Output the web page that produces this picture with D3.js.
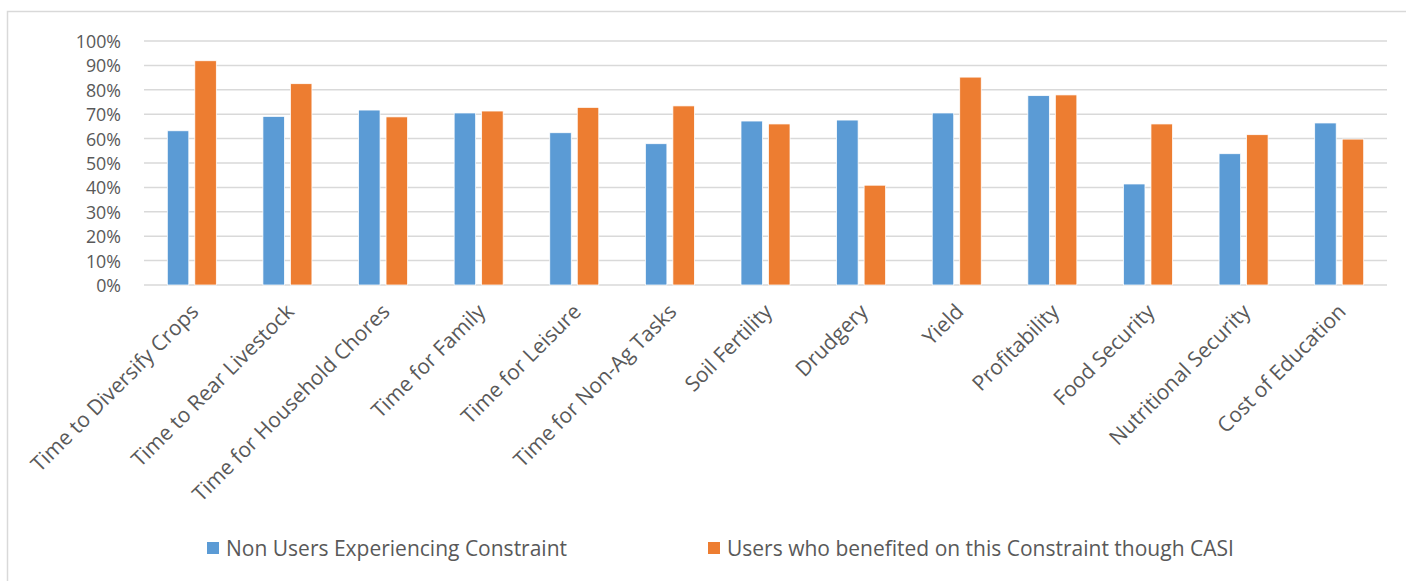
<!DOCTYPE html>
<html><head><meta charset="utf-8">
<script src="https://cdn.jsdelivr.net/npm/d3@7"></script>
<style>html,body{margin:0;padding:0;background:#fff;}svg{display:block;}</style>
</head><body>
<svg id="chart" width="1406" height="581"></svg>
<script>
const categories = ["Time to Diversify Crops","Time to Rear Livestock","Time for Household Chores","Time for Family","Time for Leisure","Time for Non-Ag Tasks","Soil Fertility","Drudgery","Yield","Profitability","Food Security","Nutritional Security","Cost of Education"];
const seriesNames = ["Non Users Experiencing Constraint","Users who benefited on this Constraint though CASI"];
const nonUsers = [63.2,69.1,71.7,70.5,62.4,57.9,67.2,67.6,70.5,77.6,41.4,53.8,66.4];
const users = [91.9,82.5,68.9,71.3,72.8,73.4,66.0,40.9,85.2,77.9,66.0,61.6,59.8];
const yTicks = [0,10,20,30,40,50,60,70,80,90,100];
const colors = ["#5B9BD5","#ED7D31"];

(function(){
const svg = d3.select("#chart");
const font = "'Open Sans', sans-serif";
const textColor = "#595959";

// outer border
svg.append("rect").attr("x",7.5).attr("y",11.5).attr("width",1420).attr("height",600)
  .attr("fill","none").attr("stroke","#D9D9D9").attr("stroke-width",1.5);

const pLeft = 144, pRight = 1387, pTop = 41, pBottom = 285;
const x0 = d3.scaleBand().domain(categories).range([pLeft,pRight]).padding(0);
const y = d3.scaleLinear().domain([0,100]).range([pBottom,pTop]);

// gridlines
svg.append("g").selectAll("line").data(yTicks).join("line")
  .attr("x1",pLeft).attr("x2",pRight)
  .attr("y1",d=>y(d)).attr("y2",d=>y(d))
  .attr("stroke","#D9D9D9").attr("stroke-width",1.5);

// y axis labels
const yAxis = d3.axisLeft(y).tickValues(yTicks).tickFormat(d=>d+"%").tickSize(0).tickPadding(0);
const ya = svg.append("g").attr("transform",`translate(121,0)`).call(yAxis);
ya.select(".domain").remove();
ya.selectAll("text").attr("font-family",font).attr("font-size",17.8).attr("fill",textColor).attr("dy","0.36em");

// bars
const groupW = 49;
const x1 = d3.scaleBand().domain([0,1]).range([-groupW/2, groupW/2]).paddingInner(6/27.5).paddingOuter(0);
const data = categories.map((c,i)=>({c, vals:[nonUsers[i], users[i]]}));
const g = svg.append("g");
data.forEach(d=>{
  const cx = x0(d.c) + x0.bandwidth()/2;
  d.vals.forEach((v,s)=>{
    g.append("rect")
      .attr("x", cx + x1(s))
      .attr("y", y(v))
      .attr("width", x1.bandwidth())
      .attr("height", y(0)-y(v))
      .attr("fill", colors[s])
      .attr("stroke","#ffffff").attr("stroke-width",0.75);
  });
});

// x axis labels
const xAxis = d3.axisBottom(x0).tickSize(0).tickPadding(0);
const xa = svg.append("g").attr("transform",`translate(0,${pBottom})`).call(xAxis);
xa.select(".domain").remove();
xa.selectAll("text")
  .attr("font-family",font).attr("font-size",21).attr("fill",textColor)
  .attr("text-anchor","end")
  .attr("dy",null).attr("y",null)
  .attr("transform","translate(8,28) rotate(-45)");

// legend
const legendX = [207, 708];
seriesNames.forEach((n,i)=>{
  svg.append("rect").attr("x",legendX[i]).attr("y",542).attr("width",12).attr("height",12).attr("fill",colors[i]);
  svg.append("text").attr("x",legendX[i]+19).attr("y",556)
    .attr("font-family",font).attr("font-size",21).attr("fill",textColor).text(n);
});
})();
</script>
</body></html>
